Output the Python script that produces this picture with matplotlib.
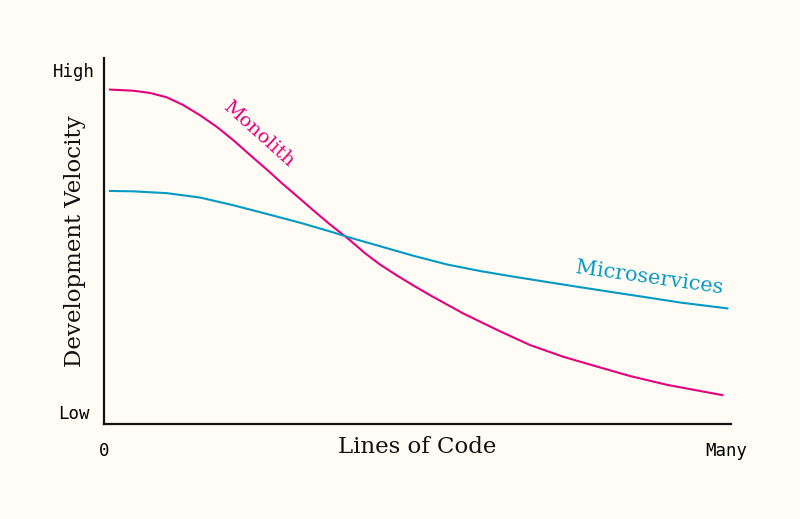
import matplotlib
matplotlib.use("Agg")
import matplotlib.pyplot as plt

BG = "#fefcf4"
PINK = "#e6007e"
BLUE = "#0399c6"

# values (x: 0..100 lines of code, y: 0..100 velocity)
mono_x = [0.96, 4.6, 7.3, 10.0, 12.6, 15.3, 18.0, 20.6, 23.3, 26.0, 28.5, 31.3,
          33.3, 36.0, 39.1, 41.6, 44.0, 46.7, 49.3, 52.0, 57.3, 62.7, 67.9,
          73.2, 78.6, 83.9, 89.8, 98.6]
mono_y = [91.4, 91.1, 90.5, 89.3, 87.2, 84.4, 81.2, 77.6, 73.5, 69.5, 65.6, 61.5,
          58.5, 54.6, 50.4, 46.7, 43.6, 40.6, 37.9, 35.2, 30.2, 25.7, 21.6,
          18.4, 15.7, 13.1, 10.7, 7.9]

micro_x = [0.96, 4.6, 10.0, 15.3, 20.6, 26.0, 31.3, 36.5, 39.1, 44.0, 49.3,
           54.7, 60.0, 65.2, 70.7, 75.9, 81.2, 86.6, 91.9, 99.4]
micro_y = [63.7, 63.6, 63.1, 61.9, 59.8, 57.4, 55.0, 52.4, 51.0, 48.6, 46.0,
           43.6, 41.8, 40.3, 38.8, 37.4, 36.0, 34.6, 33.2, 31.6]

y_ticks = [3.3, 96.7]
y_labels = ["Low", "High"]
x_ticks = [0, 99.2]
x_labels = ["0", "Many"]

fig = plt.figure(figsize=(8, 5.19), dpi=100, facecolor=BG)
ax = fig.add_axes([0.13, 0.183, 0.784, 0.705])
ax.set_facecolor(BG)

ax.plot(mono_x, mono_y, color=PINK, lw=1.5, solid_joinstyle="round")
ax.plot(micro_x, micro_y, color=BLUE, lw=1.5, solid_joinstyle="round")

ax.set_xlim(0, 100)
ax.set_ylim(0, 100)

for s in ["top", "right"]:
    ax.spines[s].set_visible(False)
for s in ["left", "bottom"]:
    ax.spines[s].set_linewidth(1.6)
    ax.spines[s].set_color("#111111")

mono_font = "DejaVu Sans Mono"
serif_font = "DejaVu Serif"

ax.set_yticks(y_ticks)
ax.set_yticklabels(y_labels, fontfamily=mono_font, fontsize=12.5, ha="center")
ax.set_xticks(x_ticks)
ax.set_xticklabels(x_labels, fontfamily=mono_font, fontsize=12.5)
ax.tick_params(axis="y", length=0, pad=21.5)
ax.tick_params(axis="x", length=0, pad=13)

ax.text(0.5, -0.063, "Lines of Code", transform=ax.transAxes, ha="center",
        va="center", fontfamily=serif_font, fontsize=16.5, color="#111111")
ax.text(-0.046, 0.5, "Development Velocity", transform=ax.transAxes, ha="center",
        va="center", rotation=90, fontfamily=serif_font, fontsize=16.5, color="#111111")

ax.text(24.7, 79.2, "Monolith", color=PINK, fontfamily=serif_font, fontsize=14,
        rotation=-42, rotation_mode="anchor", ha="center", va="center")
ax.text(86.9, 39.9, "Microservices", color=BLUE, fontfamily=serif_font, fontsize=15,
        rotation=-8, rotation_mode="anchor", ha="center", va="center")

fig.savefig("out.png", dpi=100, facecolor=BG)
